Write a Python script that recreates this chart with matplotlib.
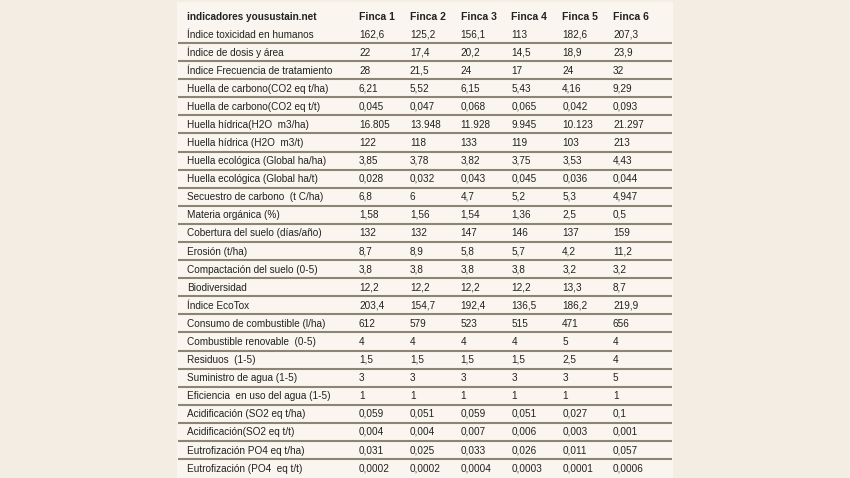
import matplotlib
matplotlib.use("Agg")
import matplotlib.pyplot as plt
from matplotlib.font_manager import FontProperties, fontManager, get_font, findfont
from matplotlib.backends.backend_agg import get_hinting_flag

header_label = "indicadores yousustain.net"
fincas = ["Finca 1", "Finca 2", "Finca 3", "Finca 4", "Finca 5", "Finca 6"]

indicadores = [
    "Índice toxicidad en humanos",
    "Índice de dosis y área",
    "Índice Frecuencia de tratamiento",
    "Huella de carbono(CO2 eq t/ha)",
    "Huella de carbono(CO2 eq t/t)",
    "Huella hídrica(H2O  m3/ha)",
    "Huella hídrica (H2O  m3/t)",
    "Huella ecológica (Global ha/ha)",
    "Huella ecológica (Global ha/t)",
    "Secuestro de carbono  (t C/ha)",
    "Materia orgánica (%)",
    "Cobertura del suelo (días/año)",
    "Erosión (t/ha)",
    "Compactación del suelo (0-5)",
    "Biodiversidad",
    "Índice EcoTox",
    "Consumo de combustible (l/ha)",
    "Combustible renovable  (0-5)",
    "Residuos  (1-5)",
    "Suministro de agua (1-5)",
    "Eficiencia  en uso del agua (1-5)",
    "Acidificación (SO2 eq t/ha)",
    "Acidificación(SO2 eq t/t)",
    "Eutrofización PO4 eq t/ha)",
    "Eutrofización (PO4  eq t/t)",
]

finca1 = ["162,6", "22", "28", "6,21", "0,045", "16.805", "122", "3,85", "0,028", "6,8",
          "1,58", "132", "8,7", "3,8", "12,2", "203,4", "612", "4", "1,5", "3",
          "1", "0,059", "0,004", "0,031", "0,0002"]
finca2 = ["125,2", "17,4", "21,5", "5,52", "0,047", "13.948", "118", "3,78", "0,032", "6",
          "1,56", "132", "8,9", "3,8", "12,2", "154,7", "579", "4", "1,5", "3",
          "1", "0,051", "0,004", "0,025", "0,0002"]
finca3 = ["156,1", "20,2", "24", "6,15", "0,068", "11.928", "133", "3,82", "0,043", "4,7",
          "1,54", "147", "5,8", "3,8", "12,2", "192,4", "523", "4", "1,5", "3",
          "1", "0,059", "0,007", "0,033", "0,0004"]
finca4 = ["113", "14,5", "17", "5,43", "0,065", "9.945", "119", "3,75", "0,045", "5,2",
          "1,36", "146", "5,7", "3,8", "12,2", "136,5", "515", "4", "1,5", "3",
          "1", "0,051", "0,006", "0,026", "0,0003"]
finca5 = ["182,6", "18,9", "24", "4,16", "0,042", "10.123", "103", "3,53", "0,036", "5,3",
          "2,5", "137", "4,2", "3,2", "13,3", "186,2", "471", "5", "2,5", "3",
          "1", "0,027", "0,003", "0,011", "0,0001"]
finca6 = ["207,3", "23,9", "32", "9,29", "0,093", "21.297", "213", "4,43", "0,044", "4,947",
          "0,5", "159", "11,2", "3,2", "8,7", "219,9", "656", "4", "4", "5",
          "1", "0,1", "0,001", "0,057", "0,0006"]

columns = [finca1, finca2, finca3, finca4, finca5, finca6]

W, H = 850, 478
DPI = 100
fig = plt.figure(figsize=(W / DPI, H / DPI), dpi=DPI)
fig.patch.set_facecolor("#f3ede3")
ax = fig.add_axes([0, 0, 1, 1])
ax.set_xlim(0, W)
ax.set_ylim(H, 0)
ax.axis("off")

# table background
x0, x1 = 177, 673
ax.add_patch(plt.Rectangle((x0, 1.5), x1 - x0, H, facecolor="#faf6ef", edgecolor="none", zorder=0))

txt_color = "#222222"
fs = 7.2
fp_reg = FontProperties(family="Liberation Sans", size=fs)
fp_bold = FontProperties(family="Liberation Sans", size=fs, weight="bold")
fp_head = FontProperties(family="Liberation Sans", size=fs + 0.3, weight="bold")


def _font_for(prop):
    try:
        return get_font(fontManager._find_fonts_by_props(prop))
    except Exception:
        return get_font(findfont(prop))


def snapped_baseline(s, prop, B):
    """Baseline position so that Agg puts the glyph baseline on pixel row B for every string."""
    try:
        font = _font_for(prop)
        font.clear()
        font.set_size(prop.get_size_in_points(), DPI)
        font.set_text(s, 0.0, flags=get_hinting_flag())
        _, h26 = font.get_width_height()
        d26 = font.get_descent()
        ymax26 = h26 - d26
        return B + (h26 // 64) - (ymax26 // 64) - d26 / 64.0
    except Exception:
        return B


def put(x, B, s, prop):
    ax.text(x, snapped_baseline(s, prop, B), s, fontproperties=prop, color=txt_color,
            va="baseline", ha="left")


label_x = 187
col_x0, col_dx = 359, 50.8
row_y0, row_dy = 34.0, 18.09
header_y = 17.0
base_off = 3.5

hb = round(header_y + base_off)
put(label_x, hb, header_label, fp_bold)
for j, f in enumerate(fincas):
    put(col_x0 + j * col_dx, hb, f, fp_head)

n = len(indicadores)
for i, name in enumerate(indicadores):
    y = row_y0 + i * row_dy
    B = round(y + base_off)
    put(label_x, B, name, fp_reg)
    for j, col in enumerate(columns):
        put(col_x0 + j * col_dx, B, col[i], fp_reg)
    if i < n - 1:
        ly = y + row_dy / 2
        ax.plot([178, 672], [ly, ly], color="#8c8474", lw=1.5, solid_capstyle="butt")

fig.savefig("out.png", dpi=DPI, facecolor=fig.get_facecolor())
